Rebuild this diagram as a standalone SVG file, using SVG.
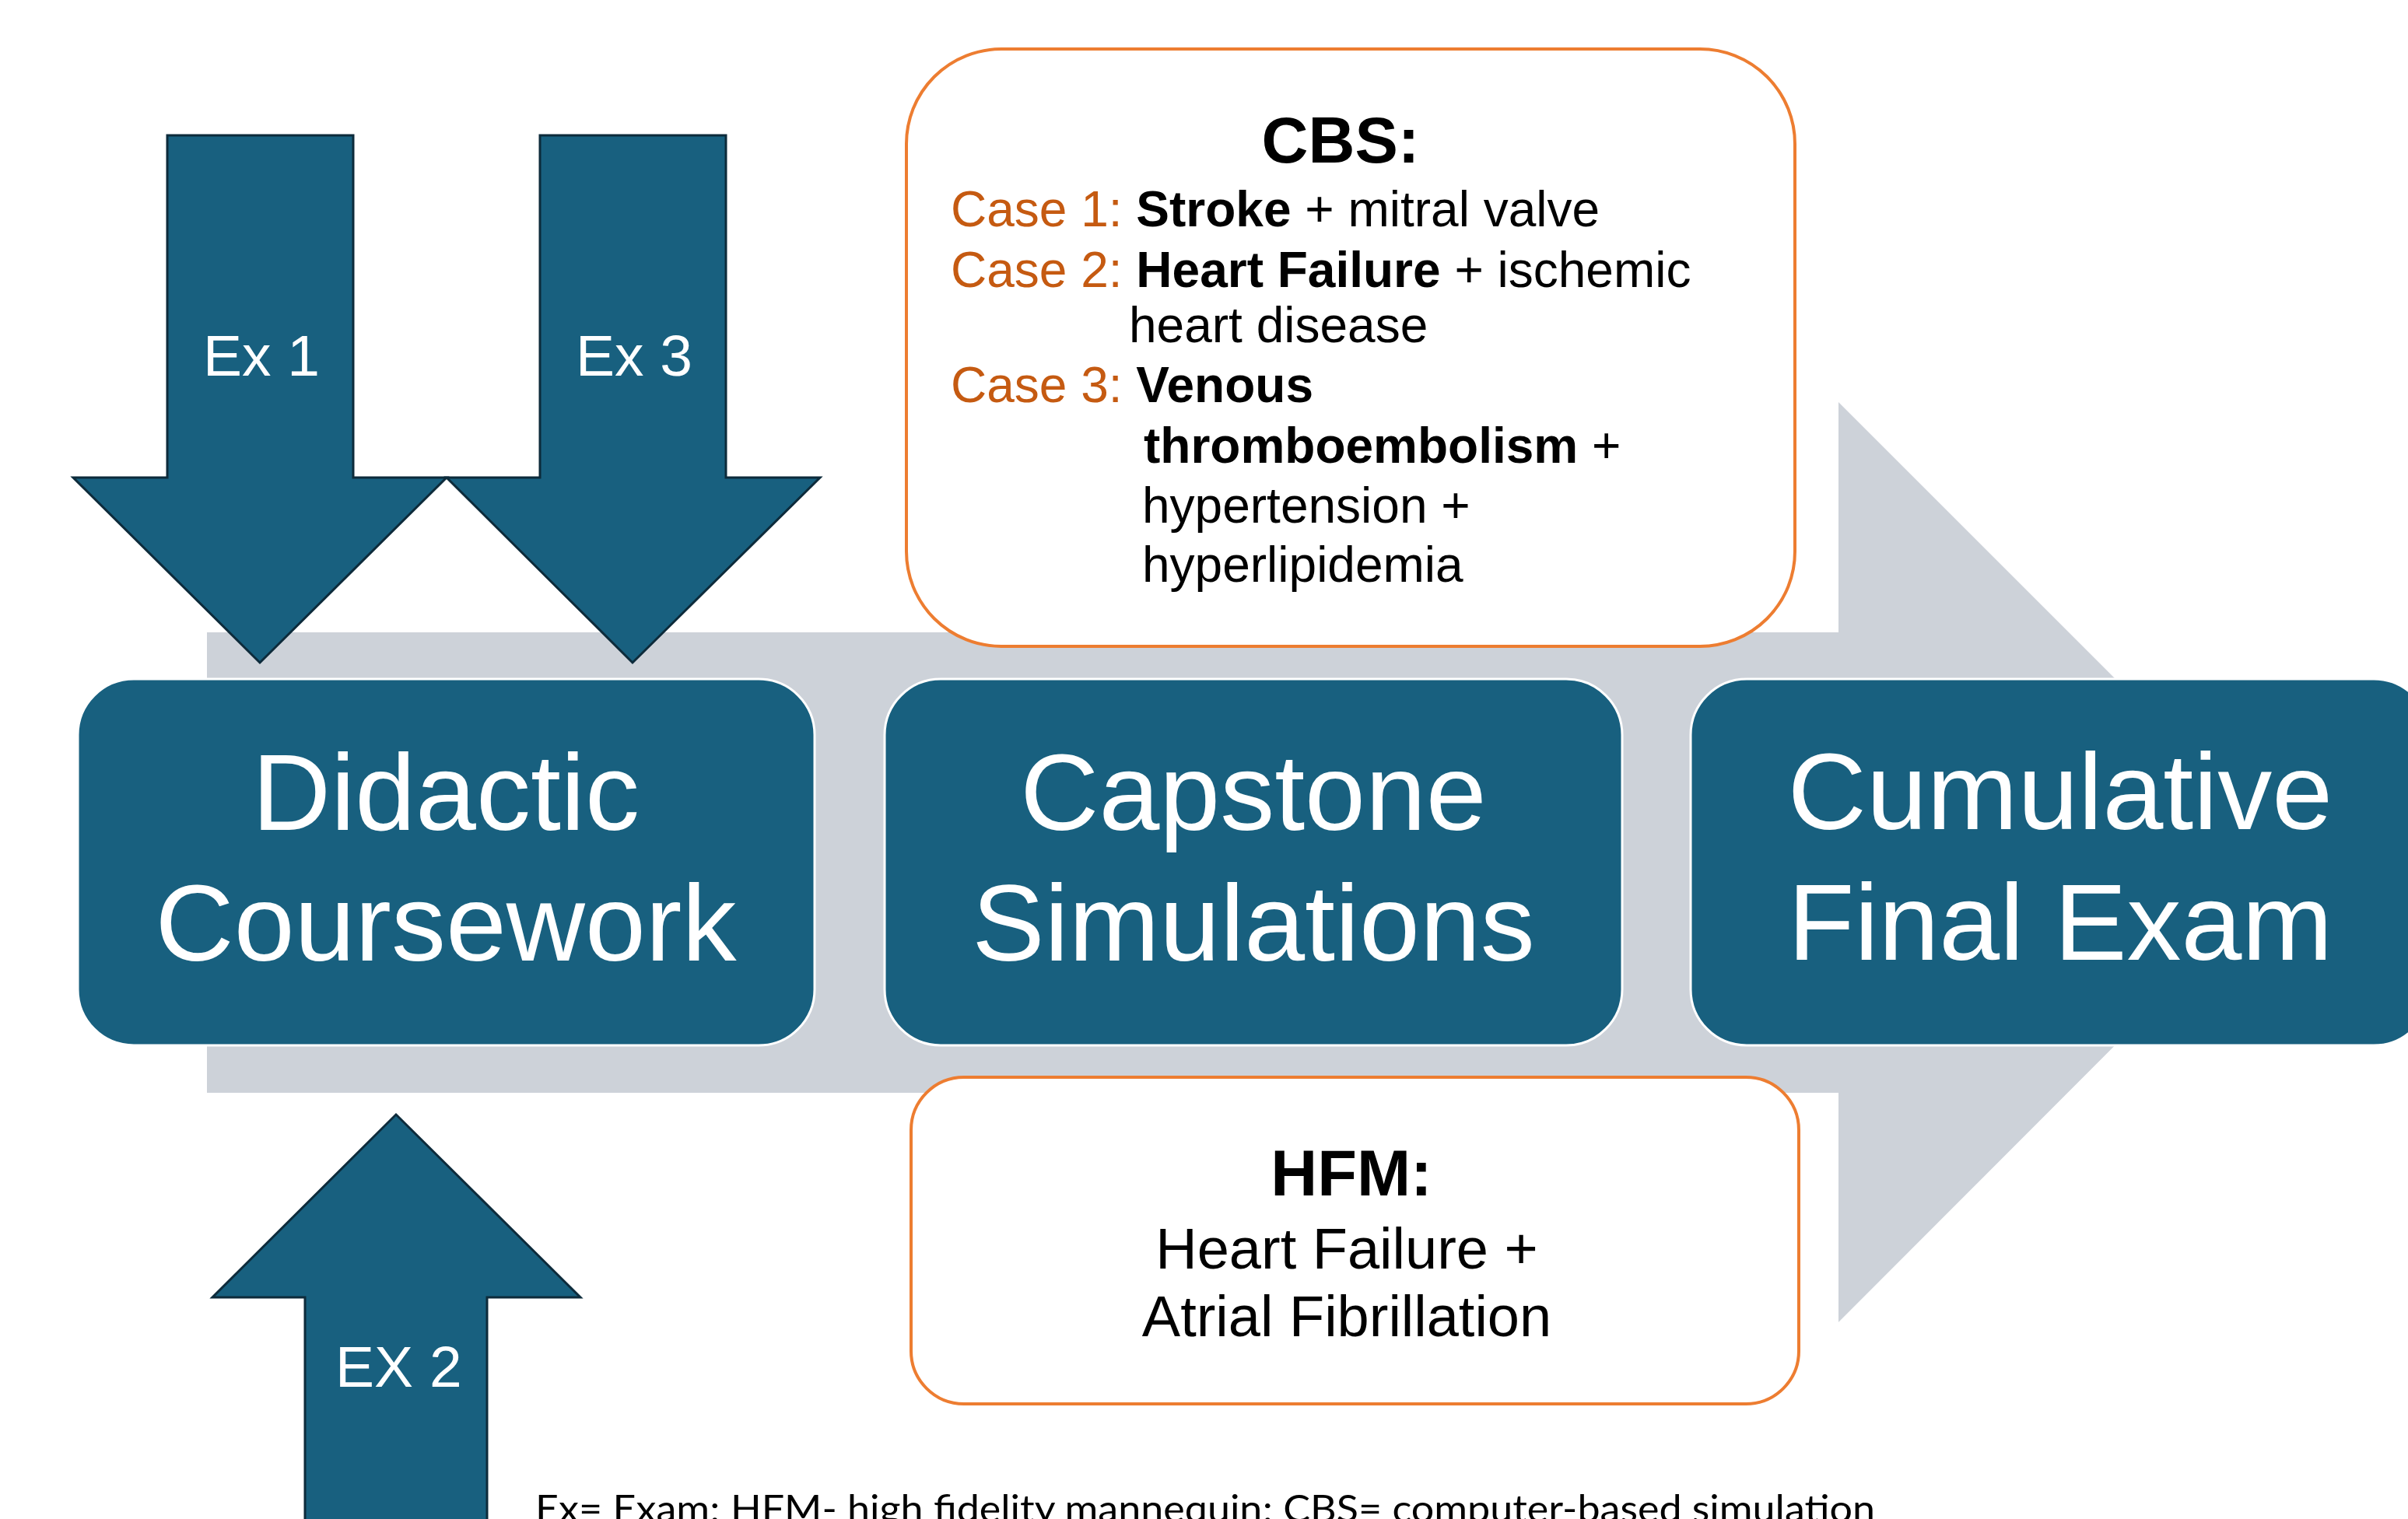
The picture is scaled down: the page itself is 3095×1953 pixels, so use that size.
<svg xmlns="http://www.w3.org/2000/svg" width="3095" height="1953" viewBox="0 0 3095 1953">
  <style>
    .bg { fill: #ffffff; }
    .flow { fill: #cdd2d9; }
    .exam { fill: #18607f; stroke: #0d2b3b; stroke-width: 3; stroke-linejoin: miter; }
    .stage { fill: #18607f; stroke: #ffffff; stroke-width: 3; }
    .note { fill: #ffffff; stroke: #ed7d31; stroke-width: 4; }
    .stage-label { font-family: "Liberation Sans", Arial, sans-serif; font-size: 140px; fill: #ffffff; text-anchor: middle; }
    .exam-label { font-family: "Liberation Sans", Arial, sans-serif; font-size: 75px; fill: #ffffff; }
    .title { font-family: "Liberation Sans", Arial, sans-serif; font-size: 83px; font-weight: bold; fill: #000000; text-anchor: middle; }
    .case { font-family: "Liberation Sans", Arial, sans-serif; font-size: 64px; fill: #000000; }
    .case-no { fill: #c55a11; }
    .strong { font-weight: bold; }
    .hfm-body { font-family: "Liberation Sans", Arial, sans-serif; font-size: 74px; fill: #000000; text-anchor: middle; }
    .footnote { font-family: Lato, "Liberation Sans", sans-serif; font-size: 48px; fill: #000000; }
  </style>

  <rect class="bg" x="0" y="0" width="3095" height="1953"/>

  <!-- connectors: the progression arrow and the exam arrows -->
  <g id="connectors">
    <polygon id="progression" class="flow" points="266,813 2363,813 2363,517 2954,1108 2363,1700 2363,1405 266,1405"/>
    <g id="exam-1">
      <polygon class="exam" points="215,174 454,174 454,614 574,614 334,852 94,614 215,614"/>
      <text class="exam-label" x="261" y="483">Ex 1</text>
    </g>
    <g id="exam-3">
      <polygon class="exam" points="694,174 933,174 933,614 1054,614 813,852 574,614 694,614"/>
      <text class="exam-label" x="740" y="483">Ex 3</text>
    </g>
    <g id="exam-2">
      <polygon class="exam" points="509,1433 746,1668 626,1668 626,1965 392,1965 392,1668 273,1668"/>
      <text class="exam-label" x="431" y="1783">EX 2</text>
    </g>
  </g>

  <!-- stages -->
  <g id="didactic-coursework">
    <rect class="stage" x="100" y="873" width="947" height="471" rx="72" ry="72"/>
    <text class="stage-label" x="573" y="1067">Didactic</text>
    <text class="stage-label" x="573" y="1235">Coursework</text>
  </g>

  <g id="capstone-simulations">
    <rect class="stage" x="1137" y="873" width="948" height="471" rx="72" ry="72"/>
    <text class="stage-label" x="1611" y="1067">Capstone</text>
    <text class="stage-label" x="1611" y="1235">Simulations</text>
  </g>

  <g id="cumulative-final-exam">
    <rect class="stage" x="2173" y="873" width="950" height="471" rx="72" ry="72"/>
    <text class="stage-label" x="2648" y="1066">Cumulative</text>
    <text class="stage-label" x="2648" y="1234">Final Exam</text>
  </g>

  <!-- computer-based simulation cases -->
  <g id="cbs-cases">
    <rect class="note" x="1165" y="63" width="1142" height="768" rx="122" ry="122"/>
    <text class="title" x="1723" y="209">CBS:</text>
    <text class="case" x="1222" y="291"><tspan class="case-no">Case 1: </tspan><tspan class="strong">Stroke</tspan> + mitral valve</text>
    <text class="case" x="1222" y="369"><tspan class="case-no">Case 2: </tspan><tspan class="strong">Heart Failure</tspan> + ischemic</text>
    <text class="case" x="1451" y="440">heart disease</text>
    <text class="case" x="1222" y="517"><tspan class="case-no">Case 3: </tspan><tspan class="strong">Venous</tspan></text>
    <text class="case" x="1470" y="595"><tspan class="strong">thromboembolism</tspan> +</text>
    <text class="case" x="1468" y="672">hypertension +</text>
    <text class="case" x="1468" y="748">hyperlipidemia</text>
  </g>

  <!-- high fidelity mannequin case -->
  <g id="hfm-case">
    <rect class="note" x="1171" y="1385" width="1141" height="420" rx="68" ry="68"/>
    <text class="title" x="1737" y="1537">HFM:</text>
    <text class="hfm-body" x="1731" y="1631">Heart Failure +</text>
    <text class="hfm-body" x="1731" y="1718">Atrial Fibrillation</text>
  </g>

  <text class="footnote" x="688" y="1957" textLength="1722" lengthAdjust="spacingAndGlyphs">Ex= Exam; HFM- high fidelity mannequin; CBS= computer-based simulation</text>
</svg>
